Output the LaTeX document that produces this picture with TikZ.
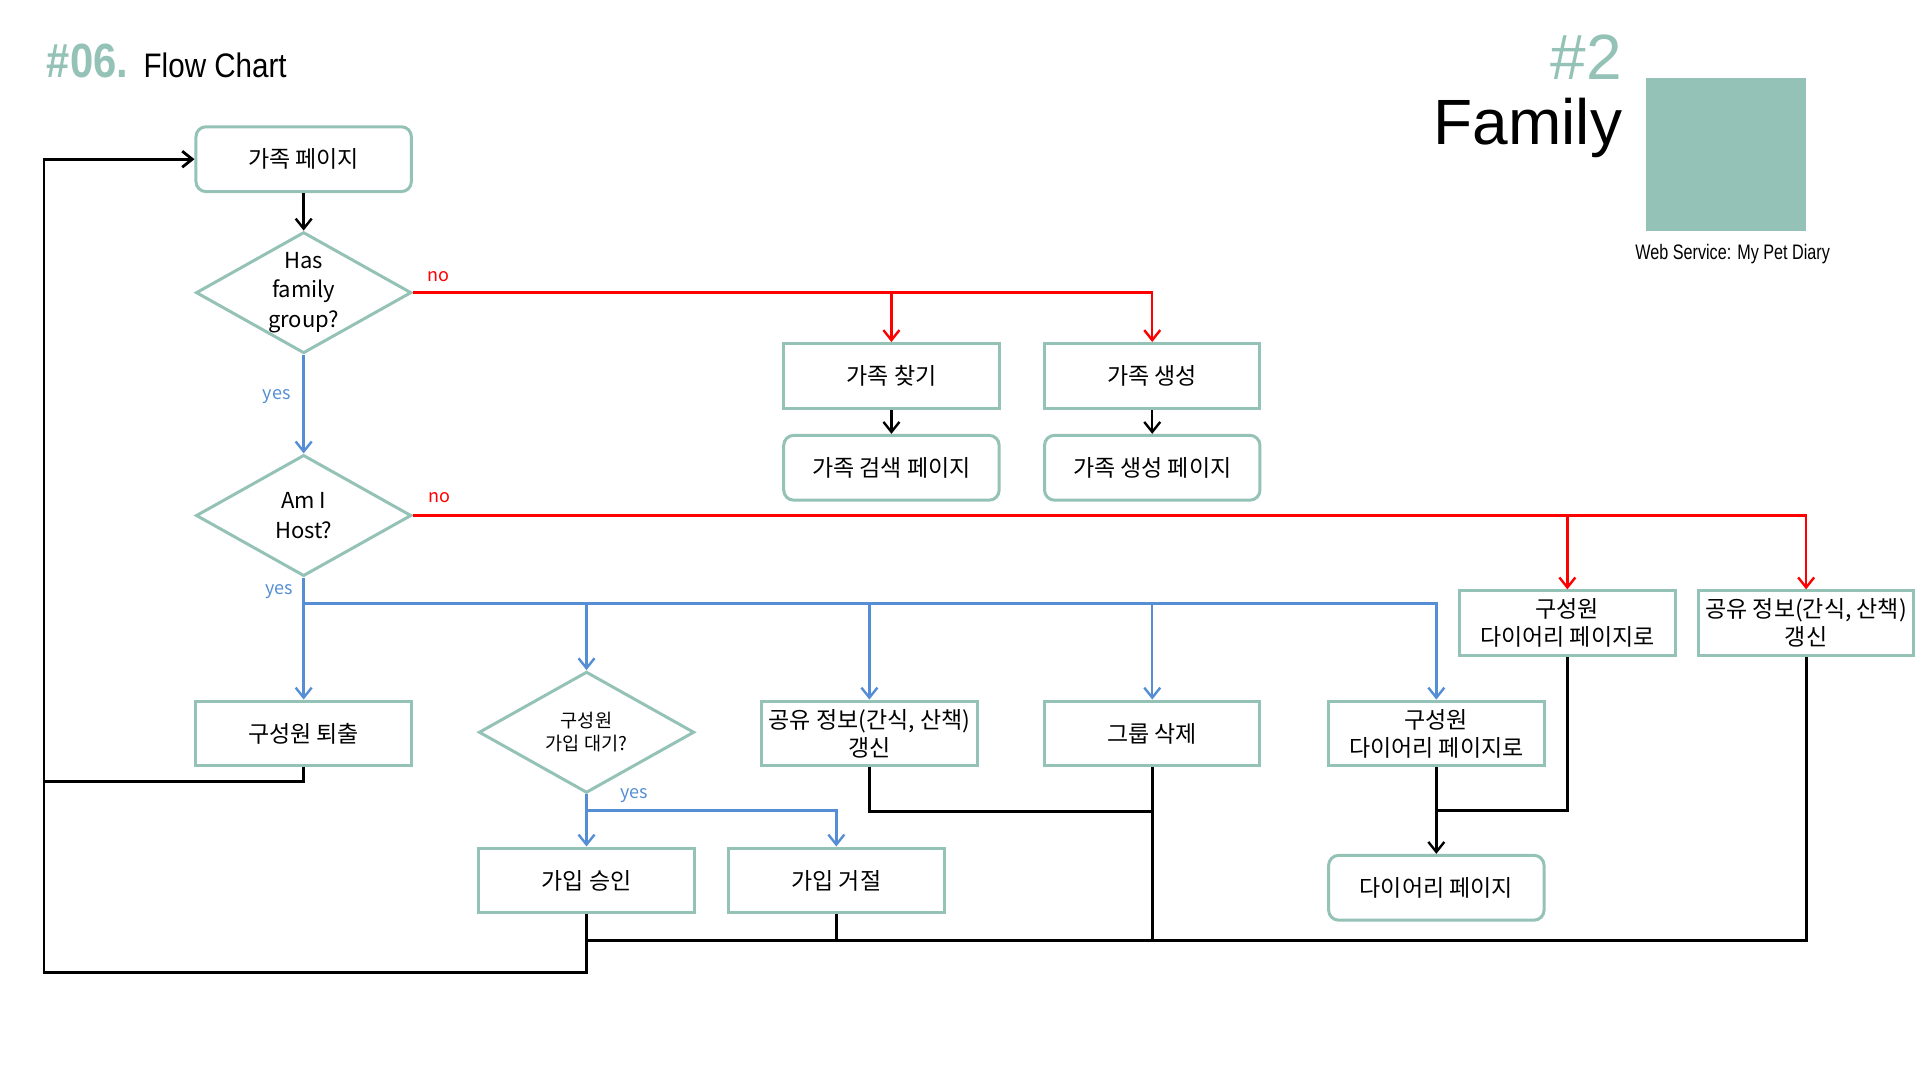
\documentclass[tikz,border=0pt]{standalone}
\usepackage{fontspec}
\setmainfont{Noto Sans CJK KR}
\newfontfamily\titlefont[FakeStretch=0.87]{Liberation Sans}
\newfontfamily\headfont{Liberation Sans}
\newfontfamily\tagfont[FakeStretch=0.77]{Liberation Sans}
\usepackage{tikz}
\usetikzlibrary{shapes.geometric, arrows.meta, positioning}
\definecolor{petteal}{HTML}{95C2B6}
\definecolor{yesblue}{HTML}{558ED5}
\definecolor{nored}{HTML}{FF0000}

\begin{document}
\begin{tikzpicture}[x=0.6122pt, y=-0.6122pt]
\tikzstyle{processBox} = [rectangle, minimum width=107.7pt, minimum height=32.4pt, inner sep=1pt, text centered, align=center, draw=petteal, line width=1.5pt, font=\fontsize{11.5}{14}\selectfont]
\tikzstyle{pageBox} = [processBox, rounded corners=5pt]
\tikzstyle{decisionBox} = [diamond, aspect=1.78, minimum width=107.7pt, minimum height=60.6pt, inner sep=0pt, align=center, draw=petteal, line width=1.5pt, font=\fontsize{11}{14.7}\selectfont]
\tikzstyle{tipLine} = [line width=1.2pt, -{Straight Barb[length=5pt, width=8pt]}]
\tikzstyle{noLine} = [tipLine, draw=nored]
\tikzstyle{yesLine} = [tipLine, draw=yesblue]
\tikzstyle{returnLine} = [line width=1.4pt, draw=black]
\tikzstyle{noLabel} = [text=nored, font=\fontsize{9}{11}\selectfont, inner sep=0pt]
\tikzstyle{yesLabel} = [text=yesblue, font=\fontsize{9}{11}\selectfont, inner sep=0pt]

\useasboundingbox (0,0) rectangle (1568,882);

% heading
\node (num) [anchor=base west, inner sep=0pt, text=petteal, font=\titlefont\fontsize{24}{28}\selectfont\bfseries] at (38,63) {\#06.};
\node (title) [anchor=base west, inner sep=0pt, font=\titlefont\fontsize{17}{20}\selectfont] at (117,63) {Flow Chart};
\node (part) [anchor=base east, inner sep=0pt, text=petteal, font=\headfont\fontsize{32}{36}\selectfont] at (1325,65) {\#2};
\node (family) [anchor=base east, inner sep=0pt, font=\headfont\fontsize{32}{36}\selectfont] at (1325,118) {Family};
\fill[petteal] (1344,64) rectangle (1475,189);
\node (service) [anchor=base, inner sep=0pt, font=\tagfont\fontsize{10.5}{12}\selectfont] at (1415,212) {Web Service: My Pet Diary};

% nodes
\node (page) [pageBox] at (248,130) {가족 페이지};
\node (hasgroup) [decisionBox] at (248,239) {Has\\family\\group?};
\node (host) [decisionBox] at (248,421) {Am I\\Host?};
\node (find) [processBox] at (728,307) {가족 찾기};
\node (create) [processBox] at (941,307) {가족 생성};
\node (search) [pageBox] at (728,382) {가족 검색 페이지};
\node (make) [pageBox] at (941,382) {가족 생성 페이지};
\node (memberDiaryB) [processBox] at (1280,509) {구성원\\다이어리 페이지로};
\node (shareB) [processBox] at (1475,509) {공유 정보(간식, 산책)\\갱신};
\node (kick) [processBox] at (248,599) {구성원 퇴출};
\node (waiting) [decisionBox, font=\fontsize{9.3}{11.6}\selectfont] at (479,598) {구성원\\가입 대기?};
\node (shareA) [processBox] at (710,599) {공유 정보(간식, 산책)\\갱신};
\node (remove) [processBox] at (941,599) {그룹 삭제};
\node (memberDiaryA) [processBox] at (1173,599) {구성원\\다이어리 페이지로};
\node (approve) [processBox] at (479,719) {가입 승인};
\node (reject) [processBox] at (683,719) {가입 거절};
\node (diary) [pageBox] at (1173,725) {다이어리 페이지};

% labels
\node (noA) [noLabel] at (358,226) {no};
\node (noB) [noLabel] at (359,406) {no};
\node (yesA) [yesLabel] at (226,324) {yes};
\node (yesB) [yesLabel] at (228,483) {yes};
\node (yesC) [yesLabel] at (518,650) {yes};

% junctions
\coordinate (hostBus) at (248,493);
\coordinate (waitBus) at (479,662);
\coordinate (loopJoin) at (36,638);
\coordinate (loopCorner) at (36,794);
\coordinate (bottomJoin) at (479,768);
\coordinate (shareJoin) at (941,663);
\coordinate (diaryJoin) at (1173,662);

% connectors
\draw[tipLine] (page) -- (hasgroup);
\draw[noLine] (hasgroup.east) -| (find.north);
\draw[noLine] (hasgroup.east) -| (create.north);
\draw[yesLine] (hasgroup.south) -- (host.north);
\draw[tipLine] (find) -- (search);
\draw[tipLine] (create) -- (make);
\draw[noLine] (host.east) -| (memberDiaryB.north);
\draw[noLine] (host.east) -| (shareB.north);
\draw[yesLine] (host.south) -- (kick.north);
\draw[yesLine] (hostBus) -| (waiting.north);
\draw[yesLine] (hostBus) -| (shareA.north);
\draw[yesLine] (hostBus) -| (remove.north);
\draw[yesLine] (hostBus) -| (memberDiaryA.north);
\draw[yesLine] (waiting.south) -- (approve.north);
\draw[yesLine] (waitBus) -| (reject.north);
\draw[tipLine] (memberDiaryA) -- (diary);

% return paths
\draw[returnLine] (kick.south) |- (loopJoin);
\draw[returnLine, -{Straight Barb[length=5pt, width=8pt]}] (approve.south) |- (loopCorner) |- (page.west);
\draw[returnLine] (reject.south) |- (bottomJoin);
\draw[returnLine] (shareA.south) |- (shareJoin);
\draw[returnLine] (remove.south) |- (bottomJoin);
\draw[returnLine] (shareB.south) |- (bottomJoin);
\draw[returnLine] (memberDiaryB.south) |- (diaryJoin);

\end{tikzpicture}
\end{document}
